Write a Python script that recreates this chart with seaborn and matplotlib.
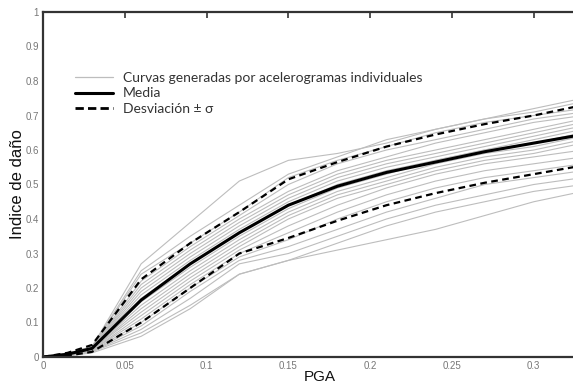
import numpy as np
import pandas as pd
import matplotlib
matplotlib.use("Agg")
import matplotlib.pyplot as plt
from matplotlib.lines import Line2D
import seaborn as sns

pga = [0, 0.015, 0.03, 0.06, 0.09, 0.12, 0.15, 0.18, 0.21, 0.24, 0.27, 0.30, 0.33]

media = [0, 0.008, 0.025, 0.165, 0.27, 0.36, 0.44, 0.495, 0.535, 0.565, 0.595, 0.62, 0.645]
media_mas = [0, 0.012, 0.035, 0.225, 0.33, 0.42, 0.515, 0.565, 0.61, 0.645, 0.675, 0.70, 0.73]
media_menos = [0, 0.004, 0.015, 0.10, 0.20, 0.30, 0.345, 0.395, 0.44, 0.475, 0.505, 0.53, 0.555]

curvas = [
    [0, 0.010, 0.030, 0.27, 0.39, 0.51, 0.57, 0.59, 0.62, 0.66, 0.69, 0.72, 0.75],
    [0, 0.010, 0.030, 0.25, 0.35, 0.44, 0.53, 0.58, 0.63, 0.66, 0.69, 0.71, 0.74],
    [0, 0.010, 0.030, 0.24, 0.33, 0.42, 0.52, 0.57, 0.61, 0.65, 0.68, 0.70, 0.72],
    [0, 0.010, 0.030, 0.22, 0.32, 0.41, 0.50, 0.56, 0.60, 0.63, 0.66, 0.69, 0.71],
    [0, 0.008, 0.028, 0.21, 0.31, 0.40, 0.48, 0.54, 0.58, 0.62, 0.65, 0.68, 0.70],
    [0, 0.008, 0.027, 0.20, 0.30, 0.39, 0.47, 0.53, 0.57, 0.60, 0.63, 0.66, 0.69],
    [0, 0.008, 0.026, 0.19, 0.29, 0.38, 0.46, 0.52, 0.56, 0.59, 0.62, 0.65, 0.68],
    [0, 0.007, 0.025, 0.18, 0.28, 0.37, 0.45, 0.51, 0.55, 0.58, 0.61, 0.64, 0.67],
    [0, 0.007, 0.025, 0.17, 0.27, 0.36, 0.44, 0.50, 0.54, 0.57, 0.60, 0.63, 0.66],
    [0, 0.007, 0.024, 0.16, 0.26, 0.35, 0.43, 0.49, 0.53, 0.57, 0.60, 0.62, 0.65],
    [0, 0.006, 0.023, 0.15, 0.25, 0.34, 0.42, 0.48, 0.52, 0.56, 0.59, 0.61, 0.64],
    [0, 0.006, 0.022, 0.14, 0.24, 0.33, 0.41, 0.47, 0.51, 0.55, 0.58, 0.60, 0.63],
    [0, 0.006, 0.022, 0.13, 0.23, 0.32, 0.40, 0.46, 0.50, 0.54, 0.57, 0.59, 0.62],
    [0, 0.005, 0.020, 0.12, 0.22, 0.31, 0.38, 0.44, 0.49, 0.53, 0.56, 0.58, 0.60],
    [0, 0.005, 0.020, 0.11, 0.21, 0.30, 0.36, 0.42, 0.47, 0.51, 0.54, 0.56, 0.58],
    [0, 0.005, 0.018, 0.10, 0.20, 0.29, 0.34, 0.40, 0.45, 0.49, 0.52, 0.54, 0.56],
    [0, 0.004, 0.017, 0.09, 0.19, 0.28, 0.32, 0.37, 0.42, 0.46, 0.50, 0.52, 0.54],
    [0, 0.004, 0.016, 0.08, 0.17, 0.27, 0.30, 0.35, 0.40, 0.44, 0.47, 0.50, 0.52],
    [0, 0.004, 0.015, 0.07, 0.15, 0.24, 0.28, 0.33, 0.38, 0.42, 0.45, 0.48, 0.50],
    [0, 0.003, 0.012, 0.06, 0.14, 0.24, 0.28, 0.31, 0.34, 0.37, 0.41, 0.45, 0.48],
]

x_ticks = [0, 0.05, 0.1, 0.15, 0.2, 0.25, 0.3]
x_labels = ["0", "0.05", "0.1", "0.15", "0.2", "0.25", "0.3"]
y_ticks = [0, 0.1, 0.2, 0.3, 0.4, 0.5, 0.6, 0.7, 0.8, 0.9, 1.0]
y_labels = ["0", "0.1", "0.2", "0.3", "0.4", "0.5", "0.6", "0.7", "0.8", "0.9", "1"]

rows = []
for i, c in enumerate(curvas):
    for xv, yv in zip(pga, c):
        rows.append({"curva": i, "PGA": xv, "dano": yv})
df = pd.DataFrame(rows)
df_media = pd.DataFrame({"PGA": pga, "media": media, "mas": media_mas, "menos": media_menos})

sns.set_style("white")
plt.rcParams["font.family"] = ["Liberation Sans", "DejaVu Sans"]

fig = plt.figure(figsize=(5.73, 3.83), dpi=100)
ax = fig.add_axes([43 / 573, 26 / 383, 530 / 573, 345 / 383])

sns.lineplot(data=df, x="PGA", y="dano", units="curva", estimator=None,
             color="#bdbdbd", lw=0.8, ax=ax, legend=False)
sns.lineplot(data=df_media, x="PGA", y="mas", color="black", lw=1.6,
             ax=ax, legend=False, linestyle=(0, (3, 2)))
sns.lineplot(data=df_media, x="PGA", y="menos", color="black", lw=1.6,
             ax=ax, legend=False, linestyle=(0, (3, 2)))
sns.lineplot(data=df_media, x="PGA", y="media", color="black", lw=2.2,
             ax=ax, legend=False)

ax.set_xlim(0, 0.324)
ax.set_ylim(0, 1)
ax.set_xticks(x_ticks)
ax.set_xticklabels(x_labels)
ax.set_yticks(y_ticks)
ax.set_yticklabels(y_labels)
ax.tick_params(axis="both", direction="in", length=4, width=1.2, colors="#333333",
               labelcolor="#777777", labelsize=7, top=True, pad=3)
for lab in ax.get_xticklabels() + ax.get_yticklabels():
    lab.set_family(["Liberation Sans Narrow", "Liberation Sans", "DejaVu Sans"])
for s in ["left", "bottom", "top"]:
    ax.spines[s].set_linewidth(1.6)
    ax.spines[s].set_color("#333333")
ax.spines["right"].set_visible(False)

ax.set_ylabel("Indice de daño", fontsize=12, color="#111111")
ax.yaxis.set_label_coords(-(43 - 25) / 530, 0.5)
ax.set_xlabel("PGA", fontsize=11, color="#111111", va="center")
ax.xaxis.set_label_coords((320 - 43) / 530, -(377 - 357) / 345)

handles = [
    Line2D([], [], color="#bdbdbd", lw=0.9),
    Line2D([], [], color="black", lw=2.2),
    Line2D([], [], color="black", lw=2.0, linestyle=(0, (3, 1.5))),
]
labels = ["Curvas generadas por acelerogramas individuales", "Media", "Desviación ± σ"]
leg = ax.legend(handles, labels, loc="upper left", bbox_to_anchor=((75 - 43) / 530, (357 - 72) / 345),
                frameon=False, handlelength=2.7, handletextpad=0.75, labelspacing=0.25,
                borderpad=0, borderaxespad=0,
                prop={"family": ["Lato", "DejaVu Sans"], "size": 10})
for t in leg.get_texts():
    t.set_color("#333333")

fig.savefig("out.png", dpi=100)
